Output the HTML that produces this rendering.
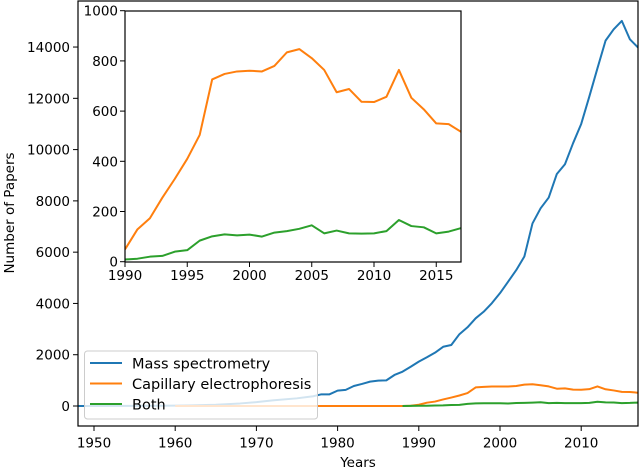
<!DOCTYPE html>
<html><head><meta charset="utf-8"><style>
html,body{margin:0;padding:0;background:#fff;}
svg{display:block;font-family:"DejaVu Sans","Liberation Sans",sans-serif;}
</style></head><body>
<svg id="chart" width="640" height="469" viewBox="0 0 640 469" xmlns="http://www.w3.org/2000/svg">
<defs>
<clipPath id="mainClip"><rect x="78" y="1" width="560" height="425"/></clipPath>
<clipPath id="insetClip"><rect x="125" y="11" width="336" height="251"/></clipPath>
</defs>
<g id="main"></g>
<g id="inset"></g>
</svg>
<script>
// ---- data ----
const msYears = [1948,1950,1955,1960,1962,1965,1968,1970,1972,1975,1977,1978,1979,1980,1981,1982,1983,1984,1985,1986,1987,1988,1989,1990,1991,1992,1993,1994,1995,1996,1997,1998,1999,2000,2001,2002,2003,2004,2005,2006,2007,2008,2009,2010,2011,2012,2013,2014,2015,2016,2017];
const msValues = [2,2,5,15,25,50,100,150,220,300,380,455,455,600,630,780,860,950,990,1000,1210,1340,1530,1730,1900,2080,2310,2380,2800,3070,3420,3680,4010,4400,4850,5300,5830,7120,7710,8130,9050,9430,10250,11000,12070,13170,14250,14690,15020,14300,13980];
const ceEarlyYears = [1960,1970,1980,1988,1989];
const ceEarlyValues = [0,0,0,2,10];
const recentYears = [1990,1991,1992,1993,1994,1995,1996,1997,1998,1999,2000,2001,2002,2003,2004,2005,2006,2007,2008,2009,2010,2011,2012,2013,2014,2015,2016,2017];
const ceValues = [49,129,173,255,330,410,505,726,748,758,761,758,780,834,847,811,764,675,688,637,636,657,764,653,607,551,548,517];
const bothValues = [9,12,20,23,40,46,84,101,109,105,108,100,116,122,131,145,113,124,113,112,113,122,166,142,137,113,120,134];
const bothEarlyYears = [1988,1989];
const bothEarlyValues = [0,3];
const mainXTicks = [1950,1960,1970,1980,1990,2000,2010];
const mainYTicks = [0,2000,4000,6000,8000,10000,12000,14000];
const insetXTicks = [1990,1995,2000,2005,2010,2015];
const insetYTicks = [0,200,400,600,800,1000];
const legendLabels = ["Mass spectrometry","Capillary electrophoresis","Both"];

const C = {ms:"#1f77b4", ce:"#ff7f0e", both:"#2ca02c"};
const NS = "http://www.w3.org/2000/svg";
function mk(tag, attrs, parent){const e=document.createElementNS(NS,tag);for(const k in attrs)e.setAttribute(k,attrs[k]);parent.appendChild(e);return e;}

const mx = y => 94 + (y-1950)*8.12;
const my = v => 406 - v*0.02564;
const ix = y => 125 + (y-1990)*12.45;
const iy = v => 261.7 - v*0.251;

const main = document.getElementById('main');
const inset = document.getElementById('inset');

function pts(xs, vs, fx, fy){return xs.map((x,i)=>fx(x).toFixed(2)+','+fy(vs[i]).toFixed(2)).join(' ');}

const mg = mk('g',{'clip-path':'url(#mainClip)'},main);
let l;
l = mk('polyline',{points:pts(msYears,msValues,mx,my),fill:'none',stroke:C.ms,'stroke-width':2,'stroke-linejoin':'round'},mg);


l = mk('polyline',{points:pts(ceEarlyYears.concat(recentYears),ceEarlyValues.concat(ceValues),mx,my),fill:'none',stroke:C.ce,'stroke-width':2,'stroke-linejoin':'round'},mg);


l = mk('polyline',{points:pts(bothEarlyYears.concat(recentYears),bothEarlyValues.concat(bothValues),mx,my),fill:'none',stroke:C.both,'stroke-width':2,'stroke-linejoin':'round'},mg);



let f = mk('rect',{x:78,y:1,width:560,height:425,fill:'none',stroke:'#000','stroke-width':1.2},main);



mainXTicks.forEach(t=>{
  const x=mx(t);
  mk('line',{x1:x,x2:x,y1:426,y2:431,stroke:'#000','stroke-width':1},main);
  const tx=mk('text',{x:x,y:447.5,'text-anchor':'middle','font-size':13.5,fill:'#000'},main);
  tx.textContent=t;
  
  
});
mainYTicks.forEach(t=>{
  const y=my(t);
  mk('line',{x1:73,x2:78,y1:y,y2:y,stroke:'#000','stroke-width':1},main);
  const tx=mk('text',{x:70,y:y+5,'text-anchor':'end','font-size':13.5,fill:'#000'},main);
  tx.textContent=t;
  
  
});
let xt = mk('text',{x:358,y:467,'text-anchor':'middle','font-size':13.5,fill:'#000'},main);
xt.textContent='Years';


let yt = mk('text',{x:0,y:0,'text-anchor':'middle','font-size':13.5,fill:'#000',transform:'translate(14,213) rotate(-90)'},main);
yt.textContent='Number of Papers';



const lg = mk('g',{},main);


mk('rect',{x:84.5,y:351,width:233,height:68,rx:3,fill:'#fff','fill-opacity':0.8,stroke:'#ccc','stroke-width':1},lg);
[C.ms,C.ce,C.both].forEach((c,i)=>{
  const y=363+i*20.5;
  const e=mk('g',{},lg);
  
  
  mk('line',{x1:90,x2:122,y1:y,y2:y,stroke:c,'stroke-width':2},e);
  const t=mk('text',{x:132,y:y+5.5,'font-size':14.5,fill:'#000'},e);
  t.textContent=legendLabels[i];
});

mk('rect',{x:125,y:11,width:336,height:251,fill:'#fff'},inset);
const ig = mk('g',{'clip-path':'url(#insetClip)'},inset);
l = mk('polyline',{points:pts(recentYears,ceValues,ix,iy),fill:'none',stroke:C.ce,'stroke-width':2,'stroke-linejoin':'round'},ig);


l = mk('polyline',{points:pts(recentYears,bothValues,ix,iy),fill:'none',stroke:C.both,'stroke-width':2,'stroke-linejoin':'round'},ig);


f = mk('rect',{x:125,y:11,width:336,height:251,fill:'none',stroke:'#000','stroke-width':1.2},inset);


insetXTicks.forEach(t=>{
  const x=ix(t);
  mk('line',{x1:x,x2:x,y1:262,y2:267,stroke:'#000','stroke-width':1},inset);
  const tx=mk('text',{x:x,y:280,'text-anchor':'middle','font-size':13.5,fill:'#000'},inset);
  tx.textContent=t;
  
  
});
insetYTicks.forEach(t=>{
  const y=iy(t);
  mk('line',{x1:120,x2:125,y1:y,y2:y,stroke:'#000','stroke-width':1},inset);
  const tx=mk('text',{x:118,y:y+5,'text-anchor':'end','font-size':13.5,fill:'#000'},inset);
  tx.textContent=t;
  
  
});
</script>
</body></html>
